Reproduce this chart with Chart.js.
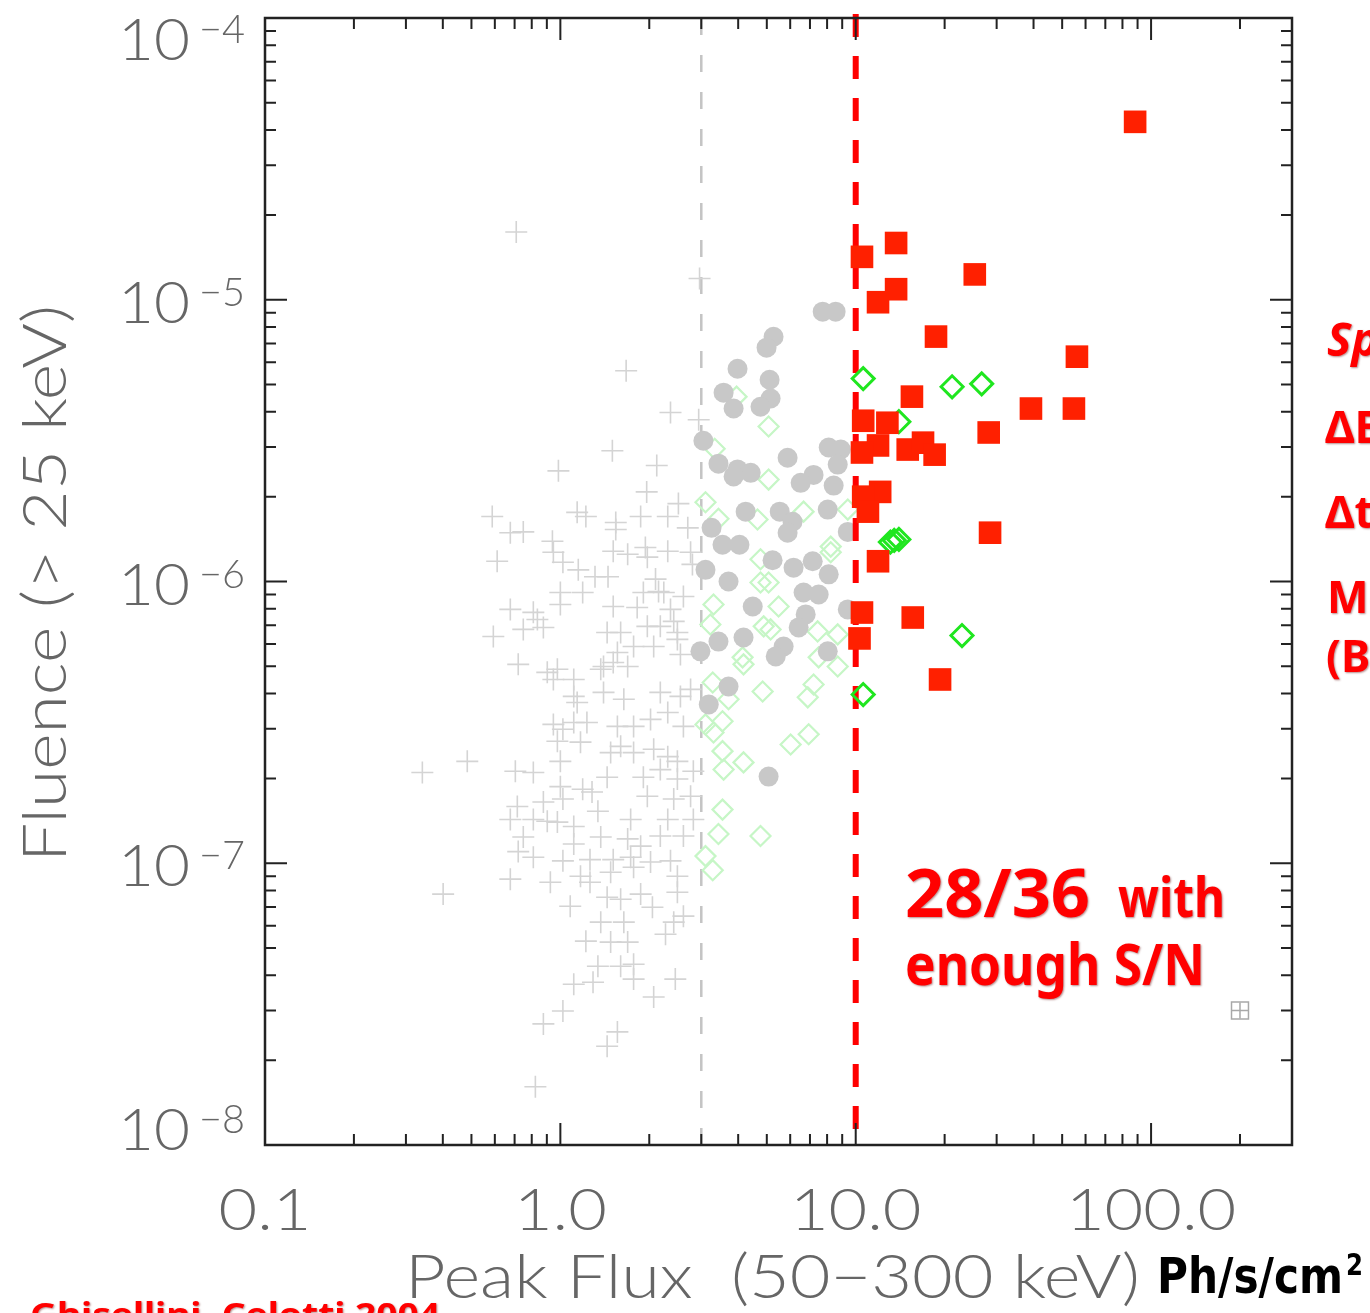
<!DOCTYPE html>
<html>
<head>
<meta charset="utf-8">
<script src="https://cdn.jsdelivr.net/npm/chart.js@4.4.1/dist/chart.umd.min.js"></script>
<style>
html,body{margin:0;padding:0;background:#fff;overflow:hidden}
#wrap{width:1370px;height:1313px}
</style>
</head>
<body>
<div id="wrap"><canvas id="chart" width="1370" height="1313"></canvas></div>
<script>

// peak flux (ph/s/cm2) , fluence (erg/cm2)

// grey crosses: all bursts
const allBursts = [
[0.709,1.74e-5],[2.96,1.19e-5],[1.67,5.60e-6],[2.36,3.98e-6],[2.94,3.75e-6],[1.50,2.91e-6],
[2.12,2.58e-6],[0.985,2.47e-6],[0.588,1.70e-6],[1.96,2.08e-6],[2.51,1.89e-6],[1.14,1.76e-6],
[1.22,1.70e-6],[1.87,1.70e-6],[2.31,1.70e-6],[2.70,1.55e-6],[1.54,1.62e-6],[1.54,1.53e-6],
[0.677,1.49e-6],[0.749,1.50e-6],[0.611,1.18e-6],[0.940,1.39e-6],[0.947,1.27e-6],[1.02,1.17e-6],
[1.15,1.10e-6],[1.51,1.28e-6],[1.69,1.25e-6],[1.94,1.32e-6],[2.31,1.28e-6],[1.97,1.22e-6],
[2.76,1.27e-6],[2.80,1.15e-6],[1.31,1.04e-6],[1.45,1.04e-6],[2.10,1.02e-6],[1.00,9.14e-7],
[1.19,9.14e-7],[1.91,9.14e-7],[2.15,9.22e-7],[2.61,8.85e-7],[2.24,9.14e-7],[1.00,8.29e-7],
[0.677,7.96e-7],[0.810,7.77e-7],[0.836,7.33e-7],[1.51,8.15e-7],[1.82,8.09e-7],[2.36,7.96e-7],
[0.749,6.76e-7],[0.876,6.87e-7],[0.593,6.38e-7],[1.44,6.59e-7],[1.60,6.59e-7],[1.97,6.93e-7],
[2.18,6.93e-7],[2.42,7.22e-7],[2.49,6.59e-7],[1.56,5.60e-7],[1.40,4.99e-7],[1.51,5.16e-7],
[1.77,5.88e-7],[2.07,5.88e-7],[2.49,6.23e-7],[2.55,5.51e-7],[0.720,5.08e-7],[0.977,4.88e-7],
[0.903,4.76e-7],[0.947,4.49e-7],[1.11,4.49e-7],[1.37,4.88e-7],[1.69,4.99e-7],[1.11,3.91e-7],
[1.14,3.72e-7],[1.40,4.04e-7],[1.64,3.82e-7],[2.18,4.04e-7],[2.55,3.91e-7],[2.76,4.14e-7],
[0.947,3.11e-7],[1.02,2.99e-7],[1.11,3.16e-7],[1.23,3.16e-7],[0.977,2.71e-7],[1.17,2.69e-7],
[1.56,3.06e-7],[1.77,3.06e-7],[2.02,3.24e-7],[2.31,3.43e-7],[2.61,3.06e-7],[1.60,2.60e-7],
[1.48,2.47e-7],[1.77,2.47e-7],[2.07,2.54e-7],[2.31,2.39e-7],[2.49,2.30e-7],[1.00,2.30e-7],
[0.484,2.30e-7],[0.341,2.10e-7],[0.704,2.12e-7],[0.810,2.10e-7],[2.18,2.15e-7],[2.82,2.12e-7],
[1.44,2.02e-7],[1.91,2.02e-7],[2.49,1.99e-7],[1.00,1.87e-7],[1.19,1.83e-7],[1.28,1.79e-7],
[1.02,1.69e-7],[0.876,1.65e-7],[0.715,1.59e-7],[1.97,1.73e-7],[2.42,1.69e-7],[2.76,1.73e-7],
[0.810,1.43e-7],[0.677,1.43e-7],[0.903,1.41e-7],[0.977,1.40e-7],[1.11,1.35e-7],[1.34,1.53e-7],
[1.73,1.43e-7],[2.31,1.43e-7],[2.82,1.43e-7],[0.749,1.24e-7],[1.37,1.24e-7],[1.69,1.22e-7],
[1.87,1.15e-7],[2.18,1.25e-7],[2.61,1.25e-7],[0.720,1.10e-7],[0.810,1.05e-7],[1.11,1.17e-7],
[1.02,1.02e-7],[1.26,1.03e-7],[1.51,1.03e-7],[1.73,1.05e-7],[2.02,1.01e-7],[2.36,1.02e-7],
[0.677,8.78e-8],[0.925,8.56e-8],[1.17,8.99e-8],[1.26,8.56e-8],[1.48,9.29e-8],[1.77,9.68e-8],
[2.49,8.99e-8],[0.401,7.77e-8],[1.44,7.57e-8],[1.60,7.45e-8],[1.87,7.77e-8],[2.49,7.89e-8],
[1.08,7.04e-8],[2.05,6.98e-8],[2.61,6.49e-8],[1.37,6.18e-8],[1.64,6.18e-8],[2.42,6.18e-8],
[1.22,5.29e-8],[1.48,5.25e-8],[1.69,5.25e-8],[2.27,5.60e-8],[1.34,4.31e-8],[1.60,4.31e-8],
[1.77,4.38e-8],[1.11,3.72e-8],[1.29,3.78e-8],[1.77,3.88e-8],[2.45,3.88e-8],[1.02,2.99e-8],
[2.07,3.35e-8],[0.876,2.69e-8],[1.56,2.52e-8],[1.44,2.24e-8],[0.823,1.61e-8]
]

// grey filled circles
const brightBursts = [
[7.73,9.07e-6],[8.55,9.07e-6],[5.27,7.39e-6],[4.99,6.76e-6],[3.98,5.69e-6],[5.11,5.20e-6],
[3.57,4.68e-6],[3.86,4.11e-6],[5.15,4.46e-6],[4.76,4.17e-6],[3.05,3.16e-6],[8.10,2.99e-6],
[8.90,2.94e-6],[5.88,2.75e-6],[3.43,2.62e-6],[3.98,2.50e-6],[4.41,2.43e-6],[3.86,2.36e-6],
[8.69,2.60e-6],[7.20,2.39e-6],[6.51,2.24e-6],[8.42,2.19e-6],[4.24,1.77e-6],[5.53,1.77e-6],
[6.11,1.63e-6],[5.88,1.49e-6],[8.04,1.80e-6],[3.25,1.55e-6],[9.40,1.50e-6],[3.54,1.35e-6],
[4.04,1.35e-6],[5.23,1.19e-6],[3.10,1.10e-6],[6.16,1.12e-6],[7.15,1.18e-6],[8.10,1.06e-6],
[3.71,1.00e-6],[6.66,9.14e-7],[7.49,8.99e-7],[4.48,8.15e-7],[6.77,7.64e-7],[6.41,6.87e-7],
[3.43,6.12e-7],[2.98,5.65e-7],[4.17,6.33e-7],[5.70,5.88e-7],[5.36,5.42e-7],[8.04,5.65e-7],
[3.71,4.24e-7],[3.18,3.66e-7],[5.07,2.03e-7],[9.40,7.96e-7]
]

// pale green diamonds
const shortBursts = [
[3.95,4.53e-6],[5.07,3.55e-6],[3.33,2.96e-6],[5.07,2.30e-6],[3.10,1.91e-6],[3.43,1.67e-6],
[6.66,1.77e-6],[4.65,1.66e-6],[9.40,1.80e-6],[8.23,1.33e-6],[4.76,1.20e-6],[8.23,1.27e-6],
[4.76,9.92e-7],[5.07,9.92e-7],[3.30,8.29e-7],[5.48,8.15e-7],[3.22,7.04e-7],[4.88,6.93e-7],
[5.15,6.76e-7],[7.43,6.65e-7],[8.69,6.49e-7],[4.14,5.38e-7],[4.17,5.08e-7],[7.49,5.38e-7],
[8.69,4.99e-7],[3.28,4.38e-7],[4.84,4.07e-7],[7.20,4.31e-7],[6.88,3.88e-7],[3.71,3.82e-7],
[3.10,3.11e-7],[3.54,3.19e-7],[3.30,2.91e-7],[6.02,2.64e-7],[6.93,2.87e-7],[3.54,2.50e-7],
[3.57,2.15e-7],[4.17,2.28e-7],[3.54,1.55e-7],[3.43,1.27e-7],[4.76,1.25e-7],[3.10,1.06e-7],
[3.28,9.45e-8]
]

// bright green diamonds: above threshold, low S/N
const lowSN = [
[10.6,5.25e-6],[21.2,4.91e-6],[26.7,5.03e-6],[14.0,3.69e-6],[14.0,1.41e-6],[13.5,1.40e-6],
[13.1,1.38e-6],[22.9,6.43e-7],[10.6,3.97e-7]
]

// red squares: enough S/N for spectral fit
const goodSN = [
[13.7,1.59e-5],[10.5,1.42e-5],[25.3,1.23e-5],[13.7,1.09e-5],[11.9,9.8e-6],[18.7,7.4e-6],
[56.1,6.28e-6],[15.5,4.53e-6],[39.2,4.11e-6],[54.8,4.11e-6],[10.6,3.72e-6],[12.8,3.66e-6],
[28.2,3.38e-6],[11.9,3.04e-6],[10.5,2.87e-6],[15.0,2.94e-6],[16.9,3.11e-6],[18.5,2.82e-6],
[12.1,2.08e-6],[10.6,2.00e-6],[11.0,1.77e-6],[28.5,1.49e-6],[11.9,1.18e-6],[10.5,7.76e-7],
[15.6,7.45e-7],[10.3,6.28e-7],[19.3,4.49e-7],[88.3,4.28e-5]
]

// typical error bar
const errorBar = [[200,3.0e-8]]

const thresholds = [3, 10]
const xTickValues = [0.1, 1, 10, 100]
const xTickLabels = ["0.1", "1.0", "10.0", "100.0"]
const yExponents = [-4, -5, -6, -7, -8]

const thinFont = "Lato, Roboto, sans-serif"

function pts(arr){
return arr.map(p => ({x:p[0], y:p[1]}))
}

// draw text squeezed/stretched to a given width
function fitText(ctx, text, left, base, width){
let m = ctx.measureText(text).width
ctx.save()
ctx.translate(left, base)
ctx.scale(width/m, 1)
ctx.textAlign = "left"
ctx.fillText(text, 0, 0)
ctx.restore()
}

function scaledText(ctx, text, cx, base, sx){
let m = ctx.measureText(text).width*sx
ctx.save()
ctx.translate(cx - m/2, base)
ctx.scale(sx, 1)
ctx.textAlign = "left"
ctx.fillText(text, 0, 0)
ctx.restore()
}

const idlFrame = {
id: "idlFrame",

beforeDatasetsDraw(chart){
const ctx = chart.ctx, a = chart.chartArea
const px = chart.scales.x.getPixelForValue(thresholds[0])
ctx.save()
ctx.strokeStyle = "#c4c4c4"
ctx.lineWidth = 2.5
ctx.setLineDash([17, 20])
ctx.beginPath()
ctx.moveTo(px, a.top)
ctx.lineTo(px, a.bottom)
ctx.stroke()
ctx.restore()
},

afterDatasetDraw(chart, args){
// red threshold goes over the circles, under the selected bursts
if(args.index !== 2) return
const ctx = chart.ctx, a = chart.chartArea
const px = chart.scales.x.getPixelForValue(thresholds[1])
ctx.save()
ctx.strokeStyle = "#ff0000"
ctx.lineWidth = 6
ctx.setLineDash([23, 19])
ctx.beginPath()
ctx.moveTo(px, a.top - 4)
ctx.lineTo(px, a.bottom - 14)
ctx.stroke()
ctx.restore()
},

afterDraw(chart){
const ctx = chart.ctx, a = chart.chartArea
const x = chart.scales.x, y = chart.scales.y
ctx.save()

// frame
ctx.strokeStyle = "#222"
ctx.lineWidth = 2.5
ctx.strokeRect(a.left, a.top, a.right - a.left, a.bottom - a.top)

// ticks, inward on all four sides
ctx.lineWidth = 2
ctx.beginPath()
for(let d = -1; d <= 2; d++){
for(let m = 1; m <= 9; m++){
let v = m*Math.pow(10, d)
if(v > x.max) break
let px = x.getPixelForValue(v)
let len = m == 1 ? 22 : 11
ctx.moveTo(px, a.bottom); ctx.lineTo(px, a.bottom - len)
ctx.moveTo(px, a.top); ctx.lineTo(px, a.top + len)
}
}
for(let d = -8; d <= -5; d++){
for(let m = 1; m <= 9; m++){
let py = y.getPixelForValue(m*Math.pow(10, d))
let len = m == 1 ? 22 : 11
ctx.moveTo(a.left, py); ctx.lineTo(a.left + len, py)
ctx.moveTo(a.right, py); ctx.lineTo(a.right - len, py)
}
}
ctx.stroke()

// x tick labels
ctx.fillStyle = "#666"
ctx.font = "300 58px " + thinFont
xTickValues.forEach((v, i) => {
scaledText(ctx, xTickLabels[i], x.getPixelForValue(v), 1230, 1.15)
})

// y tick labels 10^n
yExponents.forEach(e => {
let py = y.getPixelForValue(Math.pow(10, e))
let cy = Math.min(Math.max(py + 3, a.top + 22), a.bottom - 15)
ctx.font = "300 58px " + thinFont
fitText(ctx, "10", 118, cy + 20, 72)
ctx.font = "300 40px " + thinFont
fitText(ctx, "\u2212" + Math.abs(e), 199, cy + 3, 46)
})

// axis titles
ctx.font = "300 62px " + thinFont
ctx.save()
ctx.translate(66, 862)
ctx.rotate(-Math.PI/2)
fitText(ctx, "Fluence (> 25 keV)", 0, 0, 557)
ctx.restore()
fitText(ctx, "Peak Flux  (50\u2212300 keV)", 405, 1298, 735)

// unit label on a white patch
ctx.fillStyle = "#fff"
ctx.fillRect(1140, 1243, 230, 70)
ctx.fillStyle = "#000"
ctx.font = "bold 49px \"DejaVu Sans Condensed\", \"Liberation Sans\", sans-serif"
fitText(ctx, "Ph/s/cm", 1157, 1293, 186)
ctx.font = "bold 30px \"DejaVu Sans Condensed\", \"Liberation Sans\", sans-serif"
fitText(ctx, "2", 1346, 1275, 17)

// red notes
ctx.fillStyle = "#ff0000"
ctx.shadowColor = "rgba(90,0,0,0.45)"
ctx.shadowBlur = 2
ctx.shadowOffsetX = 1
ctx.shadowOffsetY = 1
ctx.font = "bold 66px \"Noto Sans\", sans-serif"
fitText(ctx, "28/36", 905, 917, 185)
ctx.font = "bold 56px \"Noto Sans\", sans-serif"
fitText(ctx, "with", 1118, 917, 107)
ctx.font = "bold 58px \"Noto Sans\", sans-serif"
fitText(ctx, "enough S/N", 905, 985, 300)

// text cut by the right edge
ctx.font = "italic bold 46px \"Noto Sans\", sans-serif"
ctx.textAlign = "left"
ctx.fillText("Sp", 1327, 356)
ctx.font = "bold 44px \"Noto Sans\", sans-serif"
ctx.fillText("\u0394E", 1325, 443)
ctx.fillText("\u0394t", 1325, 528)
ctx.fillText("Mo", 1327, 613)
ctx.fillText("(B", 1326, 672)

// reference cut by the bottom edge
ctx.font = "bold 32px \"Noto Sans\", sans-serif"
fitText(ctx, "Ghisellini, Celotti 2004", 30, 1326, 410)

ctx.restore()
}
}

new Chart(document.getElementById("chart"), {
type: "scatter",
data: {
datasets: [
{
label: "S/N ok",
data: pts(goodSN),
pointStyle: "rect",
pointRadius: 16,
backgroundColor: "#ff2000",
borderColor: "#ff2000",
borderWidth: 0
},
{
label: "low S/N",
data: pts(lowSN),
pointStyle: "rectRot",
pointRadius: 11,
backgroundColor: "rgba(0,0,0,0)",
borderColor: "#1fe61f",
borderWidth: 3
},
{
label: "bright",
data: pts(brightBursts),
pointStyle: "circle",
pointRadius: 10,
backgroundColor: "#c8c8c8",
borderColor: "#c8c8c8",
borderWidth: 0
},
{
label: "short",
data: pts(shortBursts),
pointStyle: "rectRot",
pointRadius: 10,
backgroundColor: "rgba(0,0,0,0)",
borderColor: "#c6f6c6",
borderWidth: 2.2
},
{
label: "all",
data: pts(allBursts),
pointStyle: "cross",
pointRadius: 11,
borderColor: "#d4d4d4",
borderWidth: 1.6
},
{
label: "error box",
data: pts(errorBar),
pointStyle: "rect",
pointRadius: 12,
backgroundColor: "rgba(0,0,0,0)",
borderColor: "#a8a8a8",
borderWidth: 1.5
},
{
label: "error cross",
data: pts(errorBar),
pointStyle: "cross",
pointRadius: 8,
borderColor: "#a8a8a8",
borderWidth: 1.5
}
]
},
options: {
responsive: false,
animation: false,
devicePixelRatio: 1,
layout: {padding: {left: 265, right: 78, top: 18, bottom: 168}},
scales: {
x: {type: "logarithmic", min: 0.1, max: 300, display: false},
y: {type: "logarithmic", min: 1e-8, max: 1e-4, display: false}
},
plugins: {
legend: {display: false},
tooltip: {enabled: false}
}
},
plugins: [idlFrame]
})

</script>
</body>
</html>
